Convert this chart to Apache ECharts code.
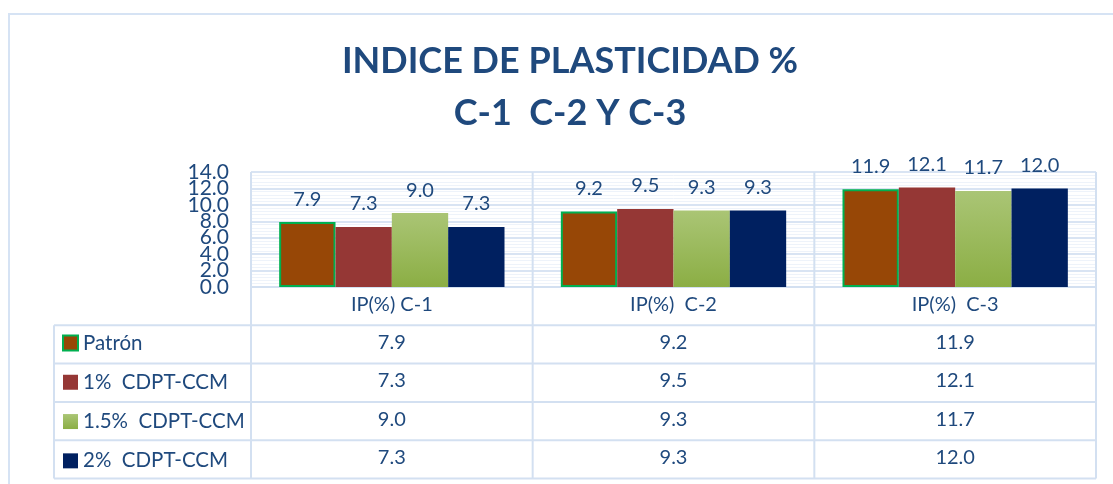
<!DOCTYPE html>
<html><head><meta charset="utf-8">
<script src="https://cdn.jsdelivr.net/npm/echarts@6/dist/echarts.min.js"></script>
<style>html,body{margin:0;padding:0;background:#fff}#c{width:1113px;height:484px}</style>
</head><body><div id="c"></div>
<script>
const categories = ['IP(%) C-1', 'IP(%)  C-2', 'IP(%)  C-3'];
const seriesNames = ['Patrón', '1%  CDPT-CCM', '1.5%  CDPT-CCM', '2%  CDPT-CCM'];
const patron = [7.9, 9.2, 11.9];
const cdpt1 = [7.3, 9.5, 12.1];
const cdpt15 = [9.0, 9.3, 11.7];
const cdpt2 = [7.3, 9.3, 12.0];
const yTicks = [0, 2, 4, 6, 8, 10, 12, 14];
const titleText = 'INDICE DE PLASTICIDAD %\nC-1  C-2 Y C-3';

const values = [patron, cdpt1, cdpt15, cdpt2];
const TXT = '#1F497D';
const LINE = '#D3E0F1';
const FONT = 'Lato';
const G = {left: 251, right: 17, top: 172, bottom: 197};
const W = 1113, H = 484;
const rowH = 38.3;
const plotBottom = H - G.bottom;
const tableBottom = plotBottom + rowH * 5;
const legendLeftX = 54;
const yMin = yTicks[0], yMax = yTicks[yTicks.length - 1];

const fills = [
  '#974706',
  '#953735',
  {type: 'linear', x: 0, y: 0, x2: 0, y2: 1, colorStops: [{offset: 0, color: '#AAC575'}, {offset: 1, color: '#8BAE44'}]},
  '#002060'
];

const chart = echarts.init(document.getElementById('c'), null, {renderer: 'canvas'});

const series = seriesNames.map((n, i) => ({
  name: n,
  type: 'bar',
  data: values[i],
  barGap: '0%',
  barCategoryGap: '20%',
  itemStyle: i === 0 ? {color: fills[i], borderColor: '#00B050', borderWidth: 2} : {color: fills[i]},
  label: {
    show: true, position: 'top', distance: 13,
    color: TXT, fontFamily: FONT, fontSize: 20,
    formatter: p => p.value.toFixed(1)
  }
}));

// table grid lines (layout)
const gl = [];
const colX = [G.left];
const cw = (W - G.left - G.right) / categories.length;
for (let i = 1; i <= categories.length; i++) colX.push(G.left + cw * i);
const lineStyle = {stroke: LINE, lineWidth: 2};
colX.forEach(x => gl.push({type: 'line', shape: {x1: x, y1: G.top, x2: x, y2: tableBottom}, style: lineStyle, z: 1}));
gl.push({type: 'line', shape: {x1: legendLeftX, y1: plotBottom + rowH, x2: legendLeftX, y2: tableBottom}, style: lineStyle, z: 1});
for (let r = 1; r <= 5; r++) {
  const y = plotBottom + rowH * r;
  gl.push({type: 'line', shape: {x1: legendLeftX, y1: y, x2: colX[colX.length - 1], y2: y}, style: lineStyle, z: 1});
}
// outer chart border
gl.push({type: 'rect', shape: {x: 9, y: 14, width: W + 20, height: H + 20}, style: {fill: null, stroke: '#D6E3F4', lineWidth: 2}, z: 0});

const yLabel = {color: TXT, fontFamily: FONT, fontSize: 21, margin: 22, formatter: v => v.toFixed(1)};

chart.setOption({
  backgroundColor: '#fff',
  animation: false,
  title: {
    text: titleText,
    left: 570, top: 35, padding: 0,
    textAlign: 'center',
    textStyle: {color: TXT, fontFamily: FONT, fontWeight: 'bold', fontSize: 36, lineHeight: 52}
  },
  legend: {
    orient: 'vertical',
    left: 62, top: plotBottom + rowH + rowH / 2 - 12,
    padding: 0,
    itemWidth: 15, itemHeight: 15, itemGap: rowH - 20,
    icon: 'rect',
    textStyle: {color: TXT, fontFamily: FONT, fontSize: 20.5, lineHeight: 20},
    data: seriesNames
  },
  grid: {left: G.left, right: G.right, top: G.top, bottom: G.bottom, containLabel: false},
  xAxis: {
    type: 'category',
    data: categories,
    axisLine: {show: true, lineStyle: {color: LINE, width: 2}},
    axisTick: {show: false},
    splitLine: {show: false},
    axisLabel: {
      interval: 0, margin: -2,
      color: TXT, fontFamily: FONT, fontSize: 20, lineHeight: rowH,
      verticalAlign: 'top',
      formatter: (v, idx) => [v].concat(values.map(a => a[idx].toFixed(1))).join('\n')
    }
  },
  yAxis: [{
    type: 'value', position: 'left',
    min: yMin, max: yMax, interval: yTicks[1] - yTicks[0],
    axisLine: {show: false},
    axisTick: {show: false},
    axisLabel: Object.assign({showMinLabel: false, showMaxLabel: false}, yLabel),
    splitLine: {show: true, lineStyle: {color: '#D9E4F3', width: 2}},
    minorTick: {show: false, splitNumber: 5},
    minorSplitLine: {show: true, lineStyle: {color: '#EEF3FA', width: 1}}
  }, {
    type: 'value', position: 'left', offset: 0,
    min: yMin, max: yMax, interval: yMax - yMin,
    axisLine: {show: false},
    axisTick: {show: false},
    axisLabel: Object.assign({showMinLabel: true, showMaxLabel: true}, yLabel),
    splitLine: {show: false}
  }],
  graphic: gl,
  series: series
});
</script></body></html>
